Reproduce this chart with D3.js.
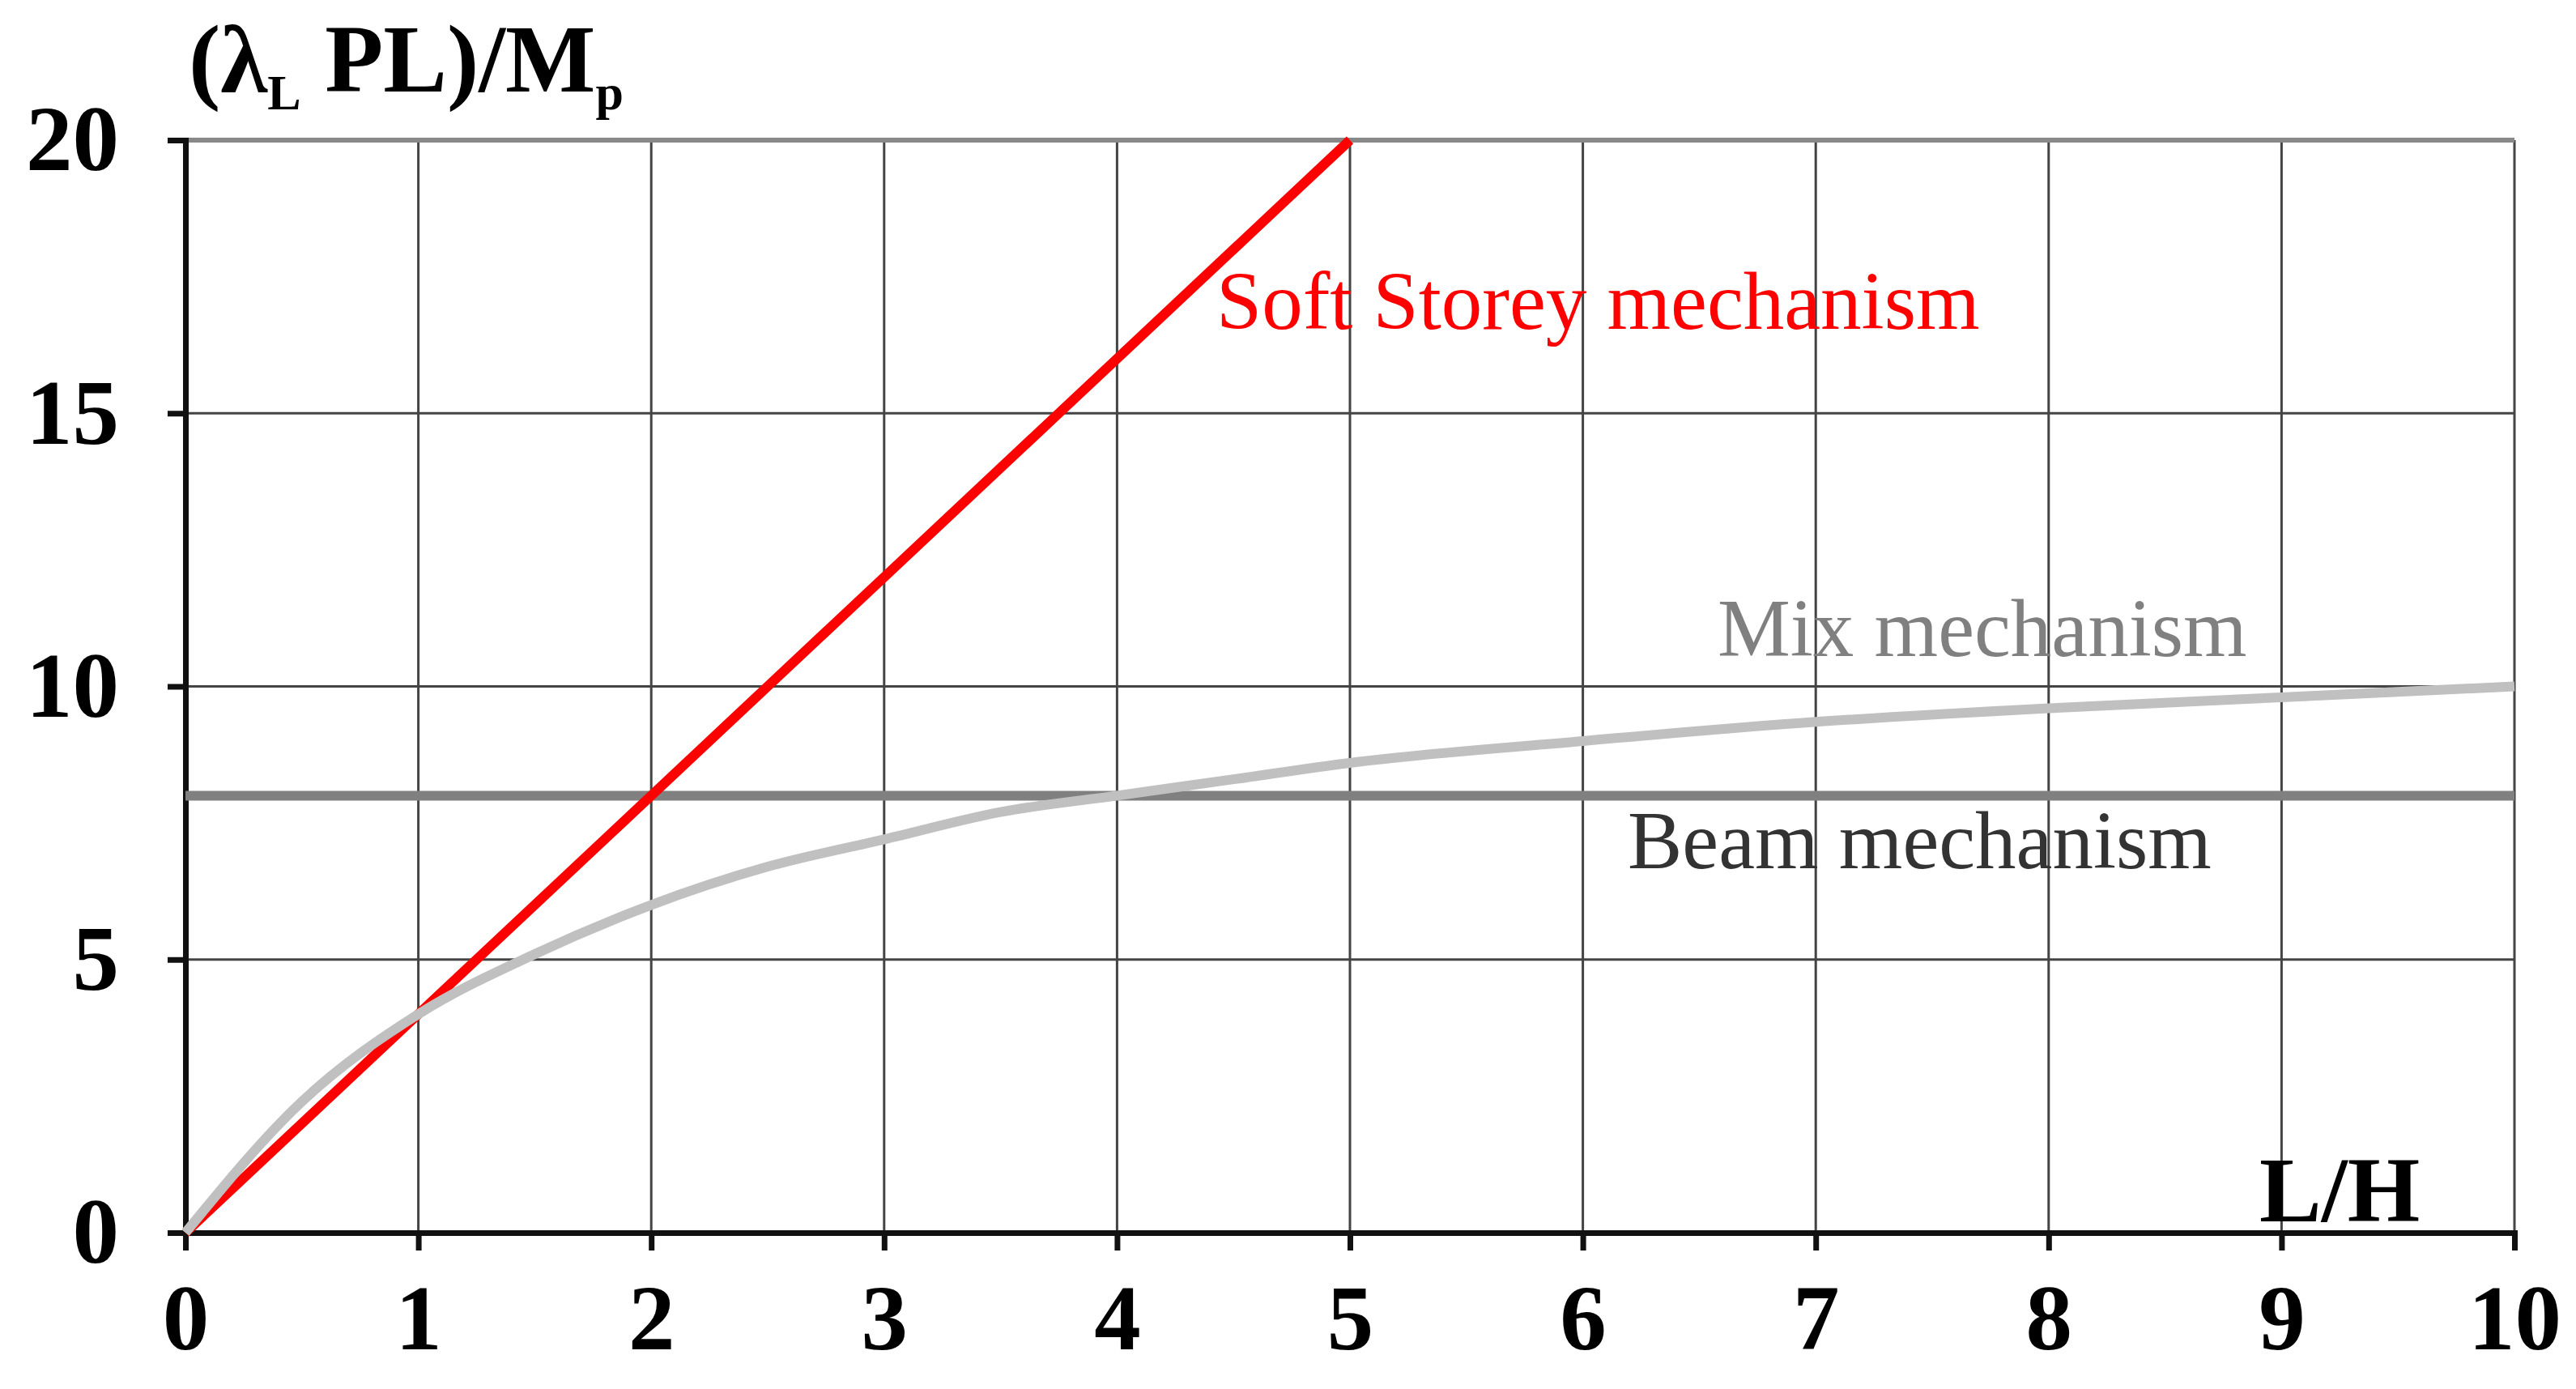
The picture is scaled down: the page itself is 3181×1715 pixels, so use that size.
<!DOCTYPE html>
<html>
<head>
<style>
  body { margin: 0; background: white; }
  svg { display: block; font-family: "Liberation Serif", "DejaVu Serif", serif; }
</style>
<script src="https://cdn.jsdelivr.net/npm/d3@7"></script>
</head>
<body>
<svg id="main"></svg>
<script>
  const xTicks = [0, 1, 2, 3, 4, 5, 6, 7, 8, 9, 10]
  const yTicks = [0, 5, 10, 15, 20]

  const softX = [0, 1, 2, 3, 4, 5]
  const softY = [0, 4, 8, 12, 16, 20]

  const mixX = [0, 0.5, 1, 1.5, 2, 2.5, 3, 3.5, 4, 4.5, 5, 6, 7, 8, 9, 10]
  const mixY = [0, 2.4, 4, 5.1, 6, 6.7, 7.2, 7.7, 8, 8.3, 8.6, 9, 9.35, 9.6, 9.8, 10]

  const beamX = [0, 10]
  const beamY = [8, 8]

  const width = 3181, height = 1715
  const margin = {top: 173, right: 76, bottom: 193, left: 229}

  const svg = d3.select("#main").attr("width", width).attr("height", height)

  const x = d3.scaleLinear().domain([0, 10]).range([margin.left, width - margin.right])
  const y = d3.scaleLinear().domain([0, 20]).range([height - margin.bottom, margin.top])

  // grid
  svg.append("g")
    .attr("stroke", "#444").attr("stroke-width", 3)
    .call(g => g.selectAll("line.v").data(xTicks.slice(1)).join("line")
      .attr("x1", d => x(d)).attr("x2", d => x(d))
      .attr("y1", y(20)).attr("y2", y(0)))
    .call(g => g.selectAll("line.h").data(yTicks.slice(1)).join("line")
      .attr("x1", x(0)).attr("x2", x(10))
      .attr("y1", d => y(d)).attr("y2", d => y(d)))
  svg.select("g").selectAll("line").filter(d => d === 20).attr("stroke", "#888").attr("stroke-width", 6)

  // axes
  const xAxis = svg.append("g")
    .attr("transform", `translate(0,${y(0)})`)
    .call(d3.axisBottom(x).tickValues(xTicks).tickSize(22).tickPadding(40).tickFormat(d3.format("d")))
  const yAxis = svg.append("g")
    .attr("transform", `translate(${x(0)},0)`)
    .call(d3.axisLeft(y).tickValues(yTicks).tickSize(22).tickPadding(60).tickFormat(d3.format("d")))
  for (const a of [xAxis, yAxis]) {
    a.select(".domain").attr("stroke", "#111").attr("stroke-width", 7)
    a.selectAll(".tick line").attr("stroke", "#111").attr("stroke-width", 7)
    a.selectAll("text").attr("font-family", "Liberation Serif").attr("font-weight", "bold")
      .attr("font-size", 115).attr("fill", "#000")
  }
  yAxis.selectAll(".tick line").attr("x2", -22)

  const line = (xs, ys, curve) => d3.line().curve(curve || d3.curveLinear)
    .x((d, i) => x(xs[i])).y(d => y(d))(ys)

  svg.append("path").attr("d", line(beamX, beamY))
    .attr("fill", "none").attr("stroke", "#808080").attr("stroke-width", 12)
  svg.append("path").attr("d", line(softX, softY))
    .attr("fill", "none").attr("stroke", "#ff0000").attr("stroke-width", 12)
  svg.append("path").attr("d", line(mixX, mixY, d3.curveMonotoneX))
    .attr("fill", "none").attr("stroke", "#c0c0c0").attr("stroke-width", 12)
    .attr("stroke-linejoin", "round")

  // titles
  const yt = svg.append("text").attr("x", 233).attr("y", 113)
    .attr("font-size", 118).attr("font-weight", "bold")
  yt.append("tspan").text("(λ")
  yt.append("tspan").text("L").attr("font-size", 62).attr("dy", 22)
  yt.append("tspan").text(" PL)/M").attr("dy", -22)
  yt.append("tspan").text("p").attr("font-size", 62).attr("dy", 22)

  svg.append("text").attr("x", 2790).attr("y", 1508)
    .attr("font-size", 115).attr("font-weight", "bold").text("L/H")

  svg.append("text").attr("x", 1502).attr("y", 406).attr("font-size", 101)
    .attr("fill", "#ff0000").text("Soft Storey mechanism")
  svg.append("text").attr("x", 2121).attr("y", 810).attr("font-size", 101)
    .attr("fill", "#808080").text("Mix mechanism")
  svg.append("text").attr("x", 2010).attr("y", 1072).attr("font-size", 101)
    .attr("fill", "#333").text("Beam mechanism")
</script>
</body>
</html>
